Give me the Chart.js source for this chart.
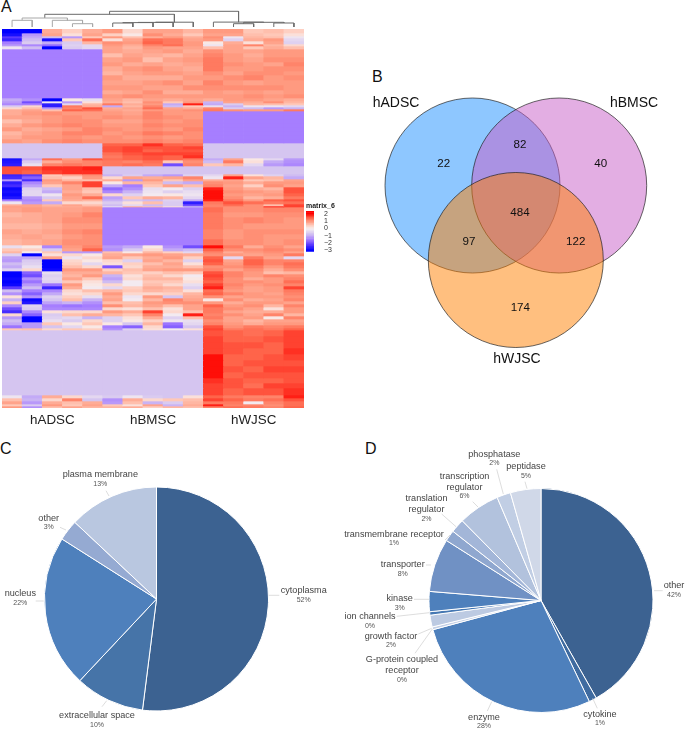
<!DOCTYPE html>
<html>
<head>
<meta charset="utf-8">
<title>Panels A-D</title>
<script src="https://cdn.jsdelivr.net/npm/chart.js@4"></script>
<style>
  html, body { margin: 0; background: #fff; }
  body { position: relative; width: 685px; height: 729px; overflow: hidden; font-family: "Liberation Sans", Arial, sans-serif; }
  canvas { position: absolute; }
  .letter { position: absolute; font-size: 16px; line-height: 16px; color: #111; }
</style>
</head>
<body>
<span class="letter" style="left:1px;top:-1px">A</span>
<span class="letter" style="left:372px;top:69px">B</span>
<span class="letter" style="left:0px;top:441px">C</span>
<span class="letter" style="left:365px;top:441px">D</span>
<canvas id="dendro" width="302" height="29" style="left:2px;top:0"></canvas>
<canvas id="heat" width="302" height="401" style="left:2px;top:29px"></canvas>
<canvas id="scale" width="30" height="56" style="left:306px;top:202px"></canvas>
<canvas id="venn" width="335" height="320" style="left:350px;top:60px"></canvas>
<canvas id="pieC" width="340" height="289" style="left:0;top:440px"></canvas>
<canvas id="pieD" width="345" height="289" style="left:340px;top:440px"></canvas>
<script>
// ------------- DATA -------------
const P = -1.5; // solid purple block
const L = -0.7; // solid lavender block
const PP = [P,P,P,P,P];
const LL = [L,L,L,L,L];

const sampleGroups = ["hADSC", "hBMSC", "hWJSC"];
const heatColumns = ["A1","A2","A3","A4","A5","B1","B2","B3","B4","B5","W1","W2","W3","W4","W5"];

// how many gene rows each line below stands for, top to bottom
const rowCounts = [
  4,3,2,3,3,2,3,
  4,4,5,4,5,4,5,5,5,4,4,
  3,2,2,2,2,2,
  4,4,4,4,4,4,4,4,
  3,3,3,3,3,
  2,3,3,
  4,4,
  2,3,2,3,3,3,3,3,3,2,3,2,1,
  5,5,6,6,5,5,6,
  3,3,2,3,3,3,3,3,3,3,3,3,3,3,3,3,3,3,3,3,3,3,3,3,3,3,3,3,2,
  6,6,6,6,6,6,6,6,5,5,7,
  3,3,3,2,2
];

const hADSC = [
  [-3,-3,.8,.4,.8],[-2.8,-1.2,.9,.2,.9],[-2.2,-1,-.8,-1.2,.5],[-2.5,-.8,-2.8,.5,1.4],[-1.5,-.6,-1,-.6,.7],[-1.2,-1.4,-1.7,-.5,-.4],[-.2,-.8,-3,-.6,-.4],
  PP,PP,PP,PP,PP,PP,PP,PP,PP,PP,PP,
  [-1,-1.3,-3,.1,-.3],[-1.2,-2,-.2,-1.2,.2],[-1.4,-1.5,-2.6,-.4,.7],[-.6,.3,-2.6,1.3,.8],[.3,.6,-1.2,1.2,1.6],[.8,.9,.6,1.5,1.4],
  [.8,1,1.1,1,1],[.9,.9,1,1.1,1],[.6,.8,1,1.1,1.1],[.8,1,1.1,1.2,1.1],[1,.8,.9,1,1.2],[.7,.9,1,1.2,1.2],[.8,1,1,1.1,1],[1,.9,1.1,1.2,1.1],
  LL,LL,LL,LL,LL,
  [-2.8,-1,1.4,1,1.6],[-2.7,-.6,.8,1.1,1.2],[-2.6,-.3,1.2,1.3,1.2],
  [1.6,1.6,1.8,1.8,1.9],[1.6,1.5,1.7,1.8,1.8],
  [-2.5,-2.2,.5,.8,1.1],[-2.4,-1.8,.6,.4,1],[-1.2,-2.4,1,.7,.6],[-2.6,-1.4,.9,1.2,1.7],[-2.4,-1.1,.5,.9,1.7],[-2.9,-.5,-.8,.9,.6],[-2.8,-.4,-1,.8,.5],[-2.9,-.4,-.2,1,.8],[-2.7,-1.2,-.6,.9,1.4],[-1.5,-1.4,.5,.8,.7],[-.2,-1.2,-1,.3,.3],[.8,.9,.7,.9,.6],[1,.9,.8,.8,.9],
  [.9,1,.9,.9,1],[.7,.8,.9,1,1.2],[.8,.8,.9,1.1,1.1],[.7,.7,.8,1,1],[.9,.8,.9,1.1,1.2],[.8,.9,.8,1,1.1],[.7,.8,.9,1.1,1.1],
  [-.3,.1,-1.4,1,1.2],[.5,.4,-.6,.9,1.5],[.7,-.1,.5,-1.2,-1.2],[-.5,-3,.2,.3,.1],[-1.1,-1,.9,-.2,.3],[-1.2,-.6,-3,.3,.1],[-.8,-.5,-3,.4,-.4],[-1,-.3,-3,.6,.3],[-.5,.3,-2.9,1,1],[-3,-1.8,-.3,.8,.8],[-3,-2,-.5,.7,1],[-2.9,-1.3,-.4,.9,.5],[-3,-1.6,-.5,.5,.2],[-2.9,-1.2,-1.6,1,.1],[-2.2,-.8,-2.5,.8,-.1],[-.8,-1.5,-1.4,.3,.6],[-1.3,-1.8,-1,.2,.3],[.2,-1.3,-.5,.4,-.3],[-.9,-2.9,-.7,.6,-.9],[.4,-2.7,-1.1,-.9,-1.3],[-1.4,-.5,-1.5,-1.6,-1.5],[-2,-.6,-1.4,-1.4,-1.4],[-2.4,-1.4,.2,.3,.3],[.3,-1.8,-.6,.6,.8],[-1.2,-3,-.5,-.4,-.9],[-.8,-3,-.3,-.6,.3],[-1,-1.2,.5,.1,.5],[-1.6,-1.2,-.7,-.4,.1],[.5,.6,.3,.5,.4],
  LL,LL,LL,LL,LL,LL,LL,LL,LL,LL,LL,
  [-.2,-1,.8,.3,-.4],[.6,-.9,.3,1.2,-.7],[.9,-1.2,.8,.6,.8],[.5,-.6,1,.5,.9],[1,-1.3,.6,.9,.7]
];

const hBMSC = [
  [1,.3,.9,.9,.7],[.4,.1,1.1,.8,.5],[1,.6,.8,1,.8],[.2,.9,1.4,1.3,.9],[1.1,1,1.5,1.3,1],[1,.8,1.2,1.4,1],[.9,.7,1,.9,.9],
  [.9,.8,.9,1,.8],[.6,.9,.8,.7,.9],[.9,1,.6,.9,1],[1,.8,.9,.8,.9],[.8,1,1.1,.9,.8],[.7,.9,1,1,.9],[1,.8,.8,.8,1],[.9,.9,1,1.1,.9],[1,1,.9,.9,1.1],[.8,.9,1.1,.8,.8],[1,1.1,1,1,1],
  [.9,.7,.9,.8,.9],[.8,.6,1.1,.5,1],[1.3,.8,1,-1,1.9],[-1,.7,1.2,-.8,.5],[.8,.9,1.4,.9,.8],[.9,.8,1,1,1.1],
  [1,.9,1.2,1,1],[1.1,1,1.2,1.1,1],[.9,.9,1.1,1,1.1],[1,1,1.2,1.1,1.1],[1.1,1,1.1,1,1.2],[1,1.1,1.3,1.2,1.1],[1.1,1,1.1,1,1.1],[1.1,1.1,1.2,1.1,1.2],
  [1.5,1.5,1.8,1.5,1.4],[1.6,1.7,1.6,1.6,1.7],[1.6,1.7,1.5,1.6,1.6],[1.4,1.6,1.7,1.7,1.7],[1.3,1.5,1.6,1.5,1.8],
  [1.4,1.5,1.6,1.5,1.3],[1.3,1.2,1.4,.5,1.1],[1.3,1.4,1.3,-2,1.2],
  LL,LL,
  [-.9,-.6,-1,-1.2,-.5],[.3,.9,.8,.9,1.2],[.8,-1.2,1,.5,.9],[.1,.7,.7,-.8,-1],[-1,-1.5,.5,.9,.6],[-1.7,-1.3,-.3,-.1,-.5],[-1.4,-.9,-.2,-.5,-.3],[.3,-.5,-.1,.1,-.2],[-1.1,.5,.8,.7,-.4],[-.9,-.7,-.8,-.5,-1],[-.6,.2,.6,-.6,-2.6],[-.8,-.4,-.8,-.6,-2],[-.3,.8,.6,.2,-.6],
  PP,PP,PP,PP,PP,PP,PP,
  [-1.2,-1,.1,-1.3,-2],[-1.3,-.6,.3,-1,-.8],[.6,.1,.7,.4,-.4],[.8,.9,1,.9,.8],[.9,.5,.8,1,.4],[.3,-.5,.9,.7,-.5],[.2,.4,.6,.9,.2],[-1.9,.3,.8,.8,.6],[.4,.6,.9,1,1],[.7,.5,.4,.6,.5],[-.9,.2,.6,.3,-.1],[-1.1,.3,.7,.7,.1],[-.8,-.1,.5,.5,.2],[.3,-.1,.6,.3,-.3],[-.4,.4,.8,.7,-.5],[.7,.5,.7,.6,.2],[1,.3,.3,.4,.7],[.8,-.2,1,-.7,.8],[.9,-.1,.7,1.2,.9],[.6,.6,1,1.1,1.1],[1.1,.7,.9,.6,.9],[.3,.2,.6,.2,.9],[1,.8,1.7,.3,.6],[.7,.5,1.2,-.1,1.9],[-.5,.2,.8,-.5,.6],[-.5,.1,.4,-.2,-.3],[.1,-.7,.7,-1.6,-.4],[-1.5,-1.8,.3,-1.8,-.7],[-1.3,-.5,.2,-.1,.2],
  LL,LL,LL,LL,LL,LL,LL,LL,LL,LL,LL,
  [-.6,-.2,-.6,-.7,.2],[-1.3,.8,.3,.5,.6],[-1.2,.6,-.9,-.6,.7],[.5,.2,.9,-.9,.8],[.7,.8,.4,.7,.6]
];

const hWJSC = [
  [1,1,.5,.6,.4],[.9,.9,.6,.5,.2],[1.1,-.2,.7,.6,-.2],[1,-.5,.8,1,-.4],[.1,.8,.2,.9,-.5],[-.2,.9,1.2,.7,.3],[.6,.9,.5,.8,.6],
  [1.1,.9,.9,1,1],[1.2,1,.8,1,1],[1.3,1,.9,1.1,1.1],[1.3,1.1,1,.9,1.2],[1.3,1,1,1.1,1.1],[1.1,.9,1.1,1.1,1],[1,1.1,1.2,1,1.1],[1.2,1,.9,1,1],[1.1,1.1,1.1,1.1,1],[1,.9,1,.9,1],[1,1,1.1,1,1.1],
  [.8,1,1,.9,.8],[-.9,.9,.8,1.1,.7],[-1,-.6,.7,.6,.5],[-.3,-.9,-.2,-.2,-.4],[1.2,-.6,-.8,-1.2,-.9],[1.3,1.1,1,1,1.3],
  PP,PP,PP,PP,PP,PP,PP,PP,
  LL,LL,LL,LL,LL,
  [-1,.9,.1,-.4,-1.2],[-.8,1.3,.2,-1,-1.3],[.5,.7,-.4,-1.2,-1.4],
  LL,LL,
  [-.4,.9,.2,-.5,-.8],[-.2,1.9,.9,.7,-1],[.8,.9,.5,.6,.9],[1.1,1,.8,1,1],[1.2,.9,.4,1.1,.9],[1.9,1,.8,.7,1.6],[2,1.1,1,.9,1.6],[2,1,.9,1,1.5],[2,1.1,.7,.8,1.3],[1.9,1.3,1,1.5,1.6],[1.3,1.6,1.4,1.3,1.4],[1.2,1.4,1.1,.6,1.7],[1.2,1.1,1.1,1.9,1.7],
  [1.4,1.1,1.1,1.2,1.2],[1.3,1,1,1.1,1.1],[1.3,1.1,1.2,1.1,1],[1.3,1.1,1,1,1],[1.2,1,1.1,1.1,1.1],[1.2,1,1.1,1,1],[1.4,1.1,1.1,1,1.1],
  [2,1.3,.8,1.1,.9],[1.5,1.1,1.1,1.2,1.1],[1.2,.8,1,1.1,.9],[1.1,1,.9,1,1.3],[1.5,-.4,1.3,.9,-.4],[1.6,.9,1.5,1.2,1.2],[1.5,1,1.5,1.2,1.4],[1.1,1.1,1.3,1,1.3],[1.2,.9,1.1,.8,1.1],[1.6,1.2,1,.6,.7],[1.7,1.2,1,1.2,1.1],[1.6,1.1,.8,1,1.2],[1.5,1.1,1.1,1,1.4],[1.7,1.2,1,1.1,1.2],[1.9,1.1,.9,1,1.7],[1.4,1,.9,1,1.3],[1.5,1.2,1,.9,1.2],[1.1,.9,1,1,1.1],[.1,1.1,.8,.9,1.2],[1,.8,1,1,.9],[1.5,1,1.1,.7,1.2],[1.3,1.1,.9,.2,1],[1.3,.9,.8,.8,1],[1.2,1.1,.9,1.2,.7],[1.3,.9,1,.1,1.2],[1.1,.9,.7,.9,.9],[1.2,1,.8,1,1],[1.6,1.1,1.3,1.2,1.3],[1.7,1.3,1.4,1.3,1.5],
  [1.6,1.5,1.4,1.5,1.7],[1.7,1.5,1.5,1.6,1.7],[1.7,1.6,1.6,1.5,1.7],[1.7,1.6,1.5,1.5,1.8],[2,1.5,1.5,1.6,1.7],[2,1.5,1.6,1.6,1.6],[2,1.6,1.5,1.7,1.7],[2,1.5,1.6,1.6,1.6],[1.8,1.6,1.5,1.5,1.6],[1.7,1.6,1.4,1.7,1.7],[1.7,1.5,1.6,1.6,1.8],
  [1.5,1.3,1.2,1.2,1.9],[1.7,1.5,1.3,1.4,1.6],[1.3,1.3,-.1,1.2,1.4],[1.9,1.2,1.2,1.1,1.4],[1.2,1.4,1.3,1.2,1.5]
];

// hclust style merges: negative = leaf number (1 based), positive = earlier merge (1 based), then height
const dendroMerges = [
  [-1,-2,6.7],[-4,-5,3.3],[-3,2,6.7],[1,3,9],
  [-6,-7,4],[5,-8,4.4],[6,-9,4.6],[7,-10,4.8],[4,8,12.7],
  [-12,-13,3.3],[-14,-15,4],[10,11,4.7],[-11,12,4.9],[9,13,15.7]
];

const legendSteps = [2.4,2.2,2,1.8,1.6,1.4,1.2,1,.8,.6,.4,.2,0,-.2,-.4,-.6,-.8,-1,-1.2,-1.4,-1.6,-1.8,-2,-2.2,-2.4,-2.6,-2.8,-3,-3.25];

const vennSets = ["hADSC", "hBMSC", "hWJSC"];
const vennCircleX = [122.5, 209.2, 165.8];
const vennCircleY = [125.5, 125.5, 200];
const vennRegionCounts = [22, 82, 40, 484, 97, 122, 174];
const vennRegionX = [93.7, 170, 250.7, 170, 119, 225.7, 170.3];
const vennRegionY = [104, 84.5, 104, 153, 182, 182, 248];

const pieCLabels = ["cytoplasma", "extracellular space", "nucleus", "other", "plasma membrane"];
const pieCValues = [52, 10, 22, 3, 13];
const pieCColors = ["#3c6291", "#4674a8", "#4e80bc", "#95aad2", "#b9c7e0"];

const pieDLabels = ["other", "cytokine", "enzyme", "G-protein coupled\nreceptor", "growth factor", "ion channels", "kinase", "transporter", "transmembrane receptor", "translation\nregulator", "transcription\nregulator", "phosphatase", "peptidase"];
const pieDValues = [41.8, 1.1, 27.9, .4, 1.7, .5, 2.9, 7.7, 1.6, 2, 6, 2, 4.4];
const pieDPercents = [42, 1, 28, 0, 2, 0, 3, 8, 1, 2, 6, 2, 5];
const pieDColors = ["#3c6291", "#3f6ba0", "#4e80bc", "#c4d0e6", "#bccae2", "#4577b2", "#4e80bc", "#7091c4", "#8fa7cf", "#a3b6d8", "#b2c2dd", "#c1cee4", "#d0d8e8"];

// where each pie label sits on the page: text x, first line y, leader x1,y1,x2,y2
const pieCLayout = [
  [303.7,590.3, 268.7,595.3,279.3,595.3],
  [97,715.3, 106.7,700.7,102,706.7],
  [20.3,593.3, 43.7,601,35.7,601],
  [48.7,518, 66,530,60,527.3],
  [100.3,474.3, 109,496,106,490.7]
];
const pieDLayout = [
  [674,585.3, 654,590.7,662.7,590.7],
  [600,714, 592.7,698.3,597.3,708.3],
  [484,717, 491.7,701.7,487.3,711],
  [402,659.3, 432.3,629,415,653.3],
  [391,636, 431.7,628.3,418.3,634],
  [370,616.7, 429.3,612.7,396.7,616.3],
  [399.7,598.3, 429,599.3,414,599.3],
  [402.7,564.3, 431,565,426,565],
  [394,534, 450,535,445,540],
  [426.5,498.3, 456,526.7,441.7,514],
  [464.5,476, 478,507,472.7,501.7],
  [494.3,454, 503.3,494,496.7,469.3],
  [526,466.3, 527,488.7,525,481.7]
];

// ------------- COLOURS -------------
const zStops = [[-3,[0,0,255]],[-2.2,[92,58,255]],[-1.5,[166,126,255]],[-.7,[213,197,240]],[0,[248,240,240]],[.5,[255,200,184]],[1,[255,154,128]],[1.5,[255,100,74]],[2,[255,14,8]]];

function zColor(v){
  if (v <= zStops[0][0]) return "rgb(0,0,255)";
  for (let i = 1; i < zStops.length; i++) {
    if (v <= zStops[i][0]) {
      const [a, ca] = zStops[i-1], [b, cb] = zStops[i];
      const t = (v - a) / (b - a);
      const c = ca.map((x,k) => Math.round(x + (cb[k] - x) * t));
      return `rgb(${c[0]},${c[1]},${c[2]})`;
    }
  }
  return "rgb(255,0,0)";
}

Chart.defaults.font.family = '"Liberation Sans", Arial, sans-serif';
Chart.defaults.animation = false;
Chart.defaults.events = [];
Chart.defaults.plugins.legend.display = false;
Chart.defaults.plugins.tooltip.enabled = false;

// ------------- PANEL A -------------
function drawHeatmap(){
  const datasets = rowCounts.map((n, r) => {
    const values = [...hADSC[r], ...hBMSC[r], ...hWJSC[r]];
    return {
      data: values.map(() => n),
      backgroundColor: values.map(zColor),
      barPercentage: 1,
      categoryPercentage: 1
    };
  });
  new Chart(document.getElementById('heat'), {
    type: 'bar',
    data: { labels: heatColumns, datasets },
    options: {
      responsive: false,
      scales: {
        x: {
          stacked: true,
          grid: { display: false, drawTicks: false, tickLength: 0 },
          border: { display: false },
          afterFit: s => { s.height = 22; },
          ticks: {
            autoSkip: false, maxRotation: 0, padding: 4,
            color: '#222', font: { size: 13.4 },
            callback: (v, i) => i % 5 === 2 ? sampleGroups[(i - 2) / 5] : ''
          }
        },
        y: { stacked: true, reverse: true, display: false, min: 0, max: 379 }
      }
    }
  });
}

function drawDendrogram(){
  const nodes = [];
  const place = id => id < 0 ? { x: -id - 0.5, h: 0 } : nodes[id - 1];
  const datasets = dendroMerges.map((m, i) => {
    const a = place(m[0]), b = place(m[1]);
    nodes.push({ x: (a.x + b.x) / 2, h: m[2] });
    return {
      data: [{x:a.x,y:a.h},{x:a.x,y:m[2]},{x:b.x,y:m[2]},{x:b.x,y:b.h}],
      showLine: true, pointRadius: 0, borderWidth: 1,
      borderColor: i < 4 ? '#a8a8a8' : '#6a6a6a'
    };
  });
  new Chart(document.getElementById('dendro'), {
    type: 'scatter',
    data: { datasets },
    options: {
      responsive: false,
      layout: { padding: { bottom: 2 } },
      scales: {
        x: { display: false, min: 0, max: 15 },
        y: { display: false, min: 0, max: 27 }
      }
    }
  });
}

function drawScaleBar(){
  const datasets = legendSteps.slice(0, -1).map((top, i) => ({
    data: [[legendSteps[i + 1], top]],
    backgroundColor: zColor((top + legendSteps[i + 1]) / 2),
    grouped: false, barPercentage: 1, categoryPercentage: 1
  }));
  new Chart(document.getElementById('scale'), {
    type: 'bar',
    data: { labels: ['z'], datasets },
    options: {
      responsive: false,
      layout: { padding: { bottom: 4 } },
      plugins: {
        title: {
          display: true, text: 'matrix_6', align: 'start', color: '#222',
          font: { size: 7, weight: 'bold', lineHeight: 1.3 }, padding: 0
        }
      },
      scales: {
        x: { display: false },
        y: {
          position: 'right', min: -3.25, max: 2.4,
          grid: { display: false }, border: { display: false },
          afterFit: s => { s.width = 22; },
          ticks: {
            stepSize: 1, includeBounds: false, autoSkip: false, padding: 2, color: '#333', font: { size: 7 },
            callback: v => String(v).replace('-', '\u2212')
          }
        }
      }
    }
  });
}

// ------------- PANEL B -------------
const vennText = {
  id: 'vennText',
  afterDatasetsDraw(chart){
    const { ctx, scales: { x, y } } = chart;
    ctx.save();
    ctx.textAlign = 'center';
    ctx.textBaseline = 'middle';
    ctx.fillStyle = '#111';
    ctx.font = '11.6px "Liberation Sans"';
    vennRegionCounts.forEach((n, i) => {
      ctx.fillText(n, x.getPixelForValue(vennRegionX[i]), y.getPixelForValue(vennRegionY[i]));
    });
    ctx.font = '14px "Liberation Sans"';
    ctx.fillText(vennSets[0], x.getPixelForValue(46), y.getPixelForValue(42.7));
    ctx.fillText(vennSets[1], x.getPixelForValue(284), y.getPixelForValue(42.7));
    ctx.fillText(vennSets[2], x.getPixelForValue(167), y.getPixelForValue(299));
    ctx.restore();
  }
};

function drawVenn(){
  const fills = ['rgba(30,144,255,0.5)', 'rgba(199,93,199,0.5)', 'rgba(255,127,0,0.5)'];
  // later datasets get painted first, so the blue one goes last
  const datasets = [2, 1, 0].map(i => ({
    data: [{ x: vennCircleX[i], y: vennCircleY[i], r: 87.5 }],
    backgroundColor: fills[i],
    borderColor: 'rgba(30,30,30,0.85)',
    borderWidth: 0.8,
    clip: false
  }));
  new Chart(document.getElementById('venn'), {
    type: 'bubble',
    data: { datasets },
    options: {
      responsive: false,
      layout: { autoPadding: false },
      scales: {
        x: { display: false, min: 0, max: 335 },
        y: { display: false, min: 0, max: 320, reverse: true }
      }
    },
    plugins: [vennText]
  });
}

// ------------- PANELS C, D -------------
function pieLabelPlugin(labels, percents, layout){
  return {
    id: 'pieText',
    afterDatasetsDraw(chart){
      const { ctx } = chart;
      const ox = chart.canvas.offsetLeft, oy = chart.canvas.offsetTop;
      ctx.save();
      ctx.textAlign = 'center';
      ctx.textBaseline = 'middle';
      labels.forEach((label, i) => {
        const [tx, ty, x1, y1, x2, y2] = layout[i];
        ctx.strokeStyle = '#d4d4d4';
        ctx.lineWidth = 0.8;
        ctx.beginPath();
        ctx.moveTo(x1 - ox, y1 - oy);
        ctx.lineTo(x2 - ox, y2 - oy);
        ctx.stroke();
        let yy = ty - oy;
        ctx.fillStyle = '#444';
        ctx.font = '9.1px "Liberation Sans"';
        label.split('\n').forEach((line, k) => {
          if (k > 0) yy += 11;
          ctx.fillText(line, tx - ox, yy);
        });
        ctx.fillStyle = '#555';
        ctx.font = '7px "Liberation Sans"';
        ctx.fillText(percents[i] + '%', tx - ox, yy + 9.4);
      });
      ctx.restore();
    }
  };
}

function drawPie(id, labels, values, percents, colors, layout, padding){
  new Chart(document.getElementById(id), {
    type: 'pie',
    data: { labels, datasets: [{ data: values, backgroundColor: colors, borderColor: '#fff', borderWidth: 1 }] },
    options: { responsive: false, radius: 112, layout: { padding } },
    plugins: [pieLabelPlugin(labels, percents, layout)]
  });
}

// initial wiring
window.addEventListener('load', () => {
  drawDendrogram();
  drawHeatmap();
  drawScaleBar();
  drawVenn();
  drawPie('pieC', pieCLabels, pieCValues, pieCValues, pieCColors, pieCLayout, { top: 29, right: 27 });
  drawPie('pieD', pieDLabels, pieDValues, pieDPercents, pieDColors, pieDLayout, { top: 32, left: 57 });
});
</script>
</body>
</html>
